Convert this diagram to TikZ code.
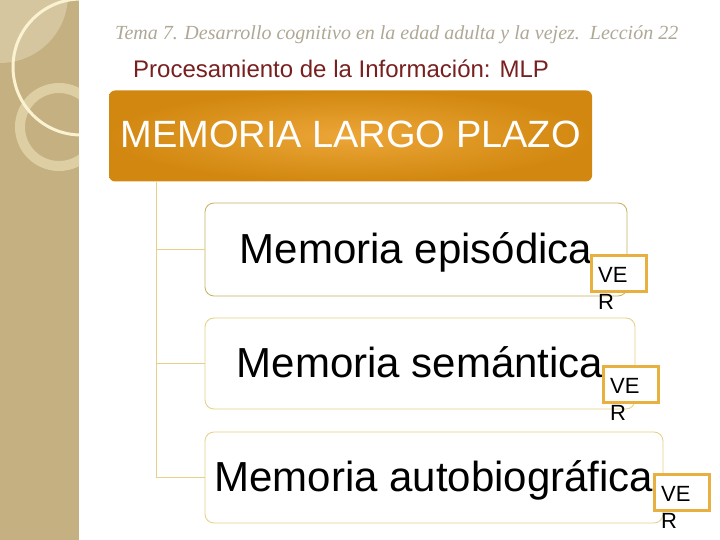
\documentclass[tikz,border=0pt]{standalone}
\usepackage{fontspec}
\setmainfont{Liberation Serif}
\setsansfont{Liberation Sans}
\usetikzlibrary{calc}
\definecolor{stripc}{RGB}{196,176,128}
\definecolor{striplight}{RGB}{214,198,160}
\definecolor{ringc}{RGB}{222,206,164}
\definecolor{creamc}{RGB}{250,242,208}
\definecolor{titlegray}{RGB}{176,168,150}
\definecolor{titlered}{RGB}{120,32,32}
\definecolor{orangein}{RGB}{236,166,56}
\definecolor{orangeout}{RGB}{210,136,16}
\definecolor{goldline}{RGB}{232,208,136}
\definecolor{goldbox}{RGB}{200,176,92}
\definecolor{goldbox2}{RGB}{230,208,130}
\definecolor{verc}{RGB}{232,176,64}
\tikzset{
  mainbox/.style={rounded corners=6pt, inner sep=0pt, shading=radial, inner color=orangein, outer color=orangeout,
    text=white, font=\sffamily\fontsize{38}{44}\selectfont, text height=24pt, text depth=0pt},
  itembox/.style={draw=#1, line width=0.8pt, rounded corners=9pt, fill=white, inner sep=0pt,
    font=\sffamily\fontsize{42}{48}\selectfont, text height=27pt, text depth=0pt},
  conn/.style={draw=goldline, line width=1pt},
  verbox/.style={draw=verc, line width=3pt, fill=white, inner sep=0pt, minimum width=55pt, minimum height=36pt},
  vertext/.style={inner sep=0pt, align=left, font=\sffamily\fontsize{22}{27}\selectfont}
}
\begin{document}
\begin{tikzpicture}[x=1pt,y=-1pt]
\useasboundingbox (0,0) rectangle (720,540);
\fill[white] (0,0) rectangle (720,540);
\begin{scope}
  \clip (0,0) rectangle (79,540);
  \fill[stripc] (0,0) rectangle (79,540);
  \fill[striplight] (0,-5) circle (68);
  \draw[ringc, line width=10pt] (59,127) circle (39);
  \draw[creamc, line width=3pt] (81,67) circle (68);
\end{scope}

\node[anchor=base west, inner sep=0pt, text=titlegray] (tema) at (115,40)
  {\resizebox{563pt}{!}{\itshape\fontsize{19}{22}\selectfont Tema 7. Desarrollo cognitivo en la edad adulta y la vejez.\ \ Lección 22}};
\node[anchor=base west, inner sep=0pt, text=titlered, font=\sffamily\fontsize{24}{28}\selectfont] (proc) at (133,78)
  {Procesamiento de la Información: MLP};

\node[mainbox, minimum width=483pt, minimum height=91pt] (mlp) at (350.5,136) {MEMORIA LARGO PLAZO};

\node[itembox=goldbox, minimum width=422pt, minimum height=93pt] (b1) at (416,249.5) {Memoria episódica};
\node[itembox=goldbox2, minimum width=430pt, minimum height=91pt] (b2) at (420,363.5) {Memoria semántica};
\node[itembox=goldbox2, minimum width=458pt, minimum height=91pt] (b3) at (434,477.5) {Memoria autobiográfica};

\coordinate (trunk) at ($(mlp.south west)+(48,0)$);
\draw[conn] (trunk) |- (b3.west);
\draw[conn] (trunk |- b1.west) -- (b1.west);
\draw[conn] (trunk |- b2.west) -- (b2.west);

\node[verbox, anchor=north west] (v1) at (590,254) {};
\node[vertext, anchor=north west] (t1) at ($(v1.north west)+(8,13)$) {VE\\R};
\node[verbox, anchor=north west] (v2) at (602,365) {};
\node[vertext, anchor=north west] (t2) at ($(v2.north west)+(8,13)$) {VE\\R};
\node[verbox, anchor=north west] (v3) at (653,473) {};
\node[vertext, anchor=north west] (t3) at ($(v3.north west)+(8,13)$) {VE\\R};
\end{tikzpicture}
\end{document}
